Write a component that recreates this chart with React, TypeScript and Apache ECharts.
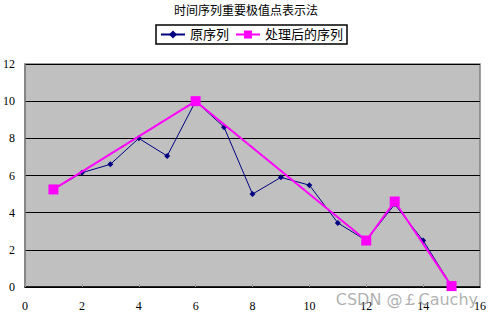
import React, { useEffect, useRef } from "react";
import * as echarts from "echarts";

const titleText = "时间序列重要极值点表示法";
const seriesNames = ["原序列", "处理后的序列"];
const originalX = [1, 2, 3, 4, 5, 6, 7, 8, 9, 10, 11, 12, 13, 14, 15];
const originalY = [5.25, 6.15, 6.6, 8.0, 7.05, 10.0, 8.6, 5.0, 5.9, 5.48, 3.45, 2.5, 4.45, 2.5, 0.05];
const processedX = [1, 6, 12, 13, 15];
const processedY = [5.25, 10.0, 2.5, 4.6, 0.05];
const watermark = "CSDN @￡Cauchy";

export default function App() {
  const ref = useRef<HTMLDivElement>(null);
  useEffect(() => {
    const chart = echarts.init(ref.current!, undefined, { renderer: "svg" });
    const font = "'Liberation Serif', 'Noto Sans CJK SC', serif";
    chart.setOption({
      animation: false,
      backgroundColor: "#ffffff",
      title: {
        text: titleText,
        left: "center",
        top: 0,
        textStyle: { fontSize: 12, fontWeight: "normal", color: "#000", fontFamily: font },
      },
      legend: {
        top: 25,
        left: 156,
        itemWidth: 24,
        itemHeight: 10,
        itemGap: 6,
        padding: [3, 4, 3, 4],
        borderColor: "#000",
        borderWidth: 1.5,
        textStyle: { fontSize: 13, color: "#000", fontFamily: font },
        data: [
          { name: seriesNames[0] },
          { name: seriesNames[1] },
        ],
      },
      grid: { left: 25, top: 64, right: 12, bottom: 34, show: true, backgroundColor: "#c0c0c0", borderColor: "#808080", borderWidth: 1.5 },
      xAxis: {
        type: "value",
        min: 0,
        max: 16,
        interval: 2,
        axisLine: { show: true, lineStyle: { color: "#000", width: 1.5 } },
        axisTick: { show: true, inside: true, length: 3, lineStyle: { color: "#999" } },
        axisLabel: { fontSize: 12, color: "#000", fontFamily: font, margin: 13 },
        splitLine: { show: false },
      },
      yAxis: {
        type: "value",
        min: 0,
        max: 12,
        interval: 2,
        axisLine: { show: true, lineStyle: { color: "#808080", width: 1.5 } },
        axisTick: { show: false },
        axisLabel: { fontSize: 12, color: "#000", fontFamily: font, margin: 10 },
        splitLine: { show: true, lineStyle: { color: "#000", width: 1.2 } },
      },
      series: [
        {
          name: seriesNames[0],
          type: "line",
          data: originalX.map((x, i) => [x, originalY[i]]),
          lineStyle: { color: "#000080", width: 1 },
          itemStyle: { color: "#000080" },
          symbol: "diamond",
          symbolSize: 6,
          z: 2,
        },
        {
          name: seriesNames[1],
          type: "line",
          data: processedX.map((x, i) => [x, processedY[i]]),
          lineStyle: { color: "#ff00ff", width: 2 },
          itemStyle: { color: "#ff00ff" },
          symbol: "rect",
          symbolSize: 10,
          z: 3,
        },
      ],
      graphic: [
        {
          type: "text",
          right: 14,
          top: 291,
          z: 100,
          style: {
            text: watermark,
            fontSize: 16,
            fill: "rgba(150,150,150,0.75)",
            fontFamily: "'DejaVu Sans', sans-serif",
          },
        },
      ],
    });
    return () => chart.dispose();
  }, []);
  return <div ref={ref} style={{ width: 492, height: 321, position: "absolute", left: 0, top: 0 }} />;
}
